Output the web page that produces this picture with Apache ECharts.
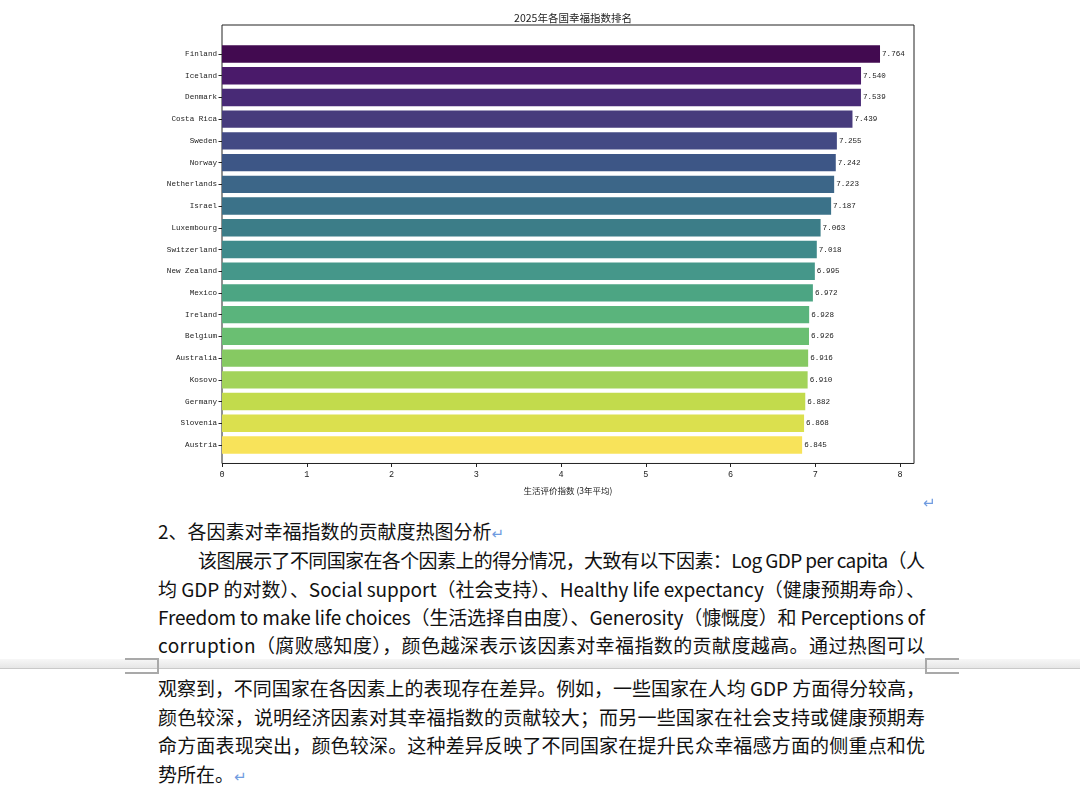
<!DOCTYPE html>
<html lang="zh">
<head>
<meta charset="utf-8">
<script src="https://cdn.jsdelivr.net/npm/echarts@6/dist/echarts.min.js"></script>
<style>
  html,body{margin:0;padding:0;background:#fff;}
  #page{position:relative;width:1080px;height:795px;overflow:hidden;background:#fff;}
  #chart{position:absolute;left:0;top:0;width:1080px;height:500px;}
  .ln{position:absolute;left:158px;width:767px;height:28px;line-height:28px;font-size:19px;
      font-family:"Noto Sans CJK SC","Noto Sans",sans-serif;color:#111;white-space:nowrap;text-align:left;}
  .pm{color:#6f9be0;font-family:"DejaVu Sans",sans-serif;font-size:15px;}
  .gap{position:absolute;left:0;top:659px;width:1080px;height:9px;
       background:linear-gradient(#f7f7f7,#e6e6e6);border-bottom:1px solid #c9c9c9;}
  .mk{position:absolute;height:12px;width:32px;border-top:2px solid #a9a9a9;border-bottom:2px solid #a9a9a9;}
</style>
</head>
<body>
<div id="page">
  <div id="chart"></div>
  <div class="pm" style="position:absolute;left:923px;top:494px;">↵</div>
  <div class="ln" style="top:517px;">2、各因素对幸福指数的贡献度热图分析<span class="pm">↵</span></div>
  <div class="ln j" style="top:546px;padding-left:40px;width:727px;"><span>该图展示了不同国家在各个因素上的得分情况，大致有以下因素：Log GDP per capita（人</span></div>
  <div class="ln j" style="top:575px;"><span>均 GDP 的对数）、Social support（社会支持）、Healthy life expectancy（健康预期寿命）、</span></div>
  <div class="ln j" style="top:603px;"><span>Freedom to make life choices（生活选择自由度）、Generosity（慷慨度）和 Perceptions of</span></div>
  <div class="ln j" style="top:631px;"><span>corruption（腐败感知度），颜色越深表示该因素对幸福指数的贡献度越高。通过热图可以</span></div>
  <div class="gap"></div>
  <div class="mk" style="left:125px;top:658px;border-right:2px solid #a9a9a9;"></div>
  <div class="mk" style="left:925px;top:658px;border-left:2px solid #a9a9a9;"></div>
  <div class="ln j" style="top:674px;"><span>观察到，不同国家在各因素上的表现存在差异。例如，一些国家在人均 GDP 方面得分较高，</span></div>
  <div class="ln j" style="top:703px;"><span>颜色较深，说明经济因素对其幸福指数的贡献较大；而另一些国家在社会支持或健康预期寿</span></div>
  <div class="ln j" style="top:731px;"><span>命方面表现突出，颜色较深。这种差异反映了不同国家在提升民众幸福感方面的侧重点和优</span></div>
  <div class="ln" style="top:760px;">势所在。<span class="pm">↵</span></div>
</div>
<script>
const countries = ["Finland","Iceland","Denmark","Costa Rica","Sweden","Norway","Netherlands","Israel","Luxembourg","Switzerland","New Zealand","Mexico","Ireland","Belgium","Australia","Kosovo","Germany","Slovenia","Austria"];
const scores = [7.764,7.540,7.539,7.439,7.255,7.242,7.223,7.187,7.063,7.018,6.995,6.972,6.928,6.926,6.916,6.910,6.882,6.868,6.845];
const xTicks = [0,1,2,3,4,5,6,7,8];
const chartTitle = "2025年各国幸福指数排名";
const xName = "生活评价指数 (3年平均)";
const palette = ["#420a50","#4a1a6a","#482a76","#473b7c","#434a84","#3d5686","#3c6688","#3b7289","#3c7d88","#3f8a8b","#45978a","#4ca583","#5ab47c","#6abf72","#86c962","#a2d35a","#c2db4c","#dbe04e","#f8e35a"];

const mono = "Liberation Mono, DejaVu Sans Mono, monospace";
const cjk = "Noto Sans CJK SC, sans-serif";
const ink = "#222";
const xMax = 8.165;

const chart = echarts.init(document.getElementById('chart'), null, {renderer:'canvas'});
chart.setOption({
  animation:false,
  backgroundColor:'#fff',
  title:{text:chartTitle, left:568, top:8, textAlign:'center',
    textStyle:{fontSize:10.5, fontWeight:'normal', color:ink, fontFamily:cjk}},
  grid:[
    {left:222, right:166, top:25, bottom:26, show:true, borderColor:ink, borderWidth:1, backgroundColor:'transparent'},
    {left:222, right:166, top:43.14, bottom:44.16}
  ],
  xAxis:[
    {gridIndex:0, type:'value', min:0, max:xMax,
     axisLine:{show:false}, splitLine:{show:false},
     axisTick:{show:true, length:3.5, lineStyle:{color:ink, width:1}, customValues:xTicks},
     axisLabel:{customValues:xTicks, fontSize:8.5, color:ink, margin:7, fontFamily:mono},
     name:xName, nameLocation:'middle', nameGap:23,
     nameTextStyle:{fontSize:8.5, color:ink, fontFamily:cjk}},
    {gridIndex:1, type:'value', min:0, max:xMax, show:false}
  ],
  yAxis:[
    {gridIndex:0, type:'value', show:false},
    {gridIndex:1, type:'category', data:countries, inverse:true,
     axisLine:{show:false}, splitLine:{show:false},
     axisTick:{show:true, alignWithLabel:true, length:3.5, lineStyle:{color:ink, width:1}},
     axisLabel:{fontSize:7.6, color:ink, margin:5, fontFamily:mono}}
  ],
  series:[{
    type:'bar', xAxisIndex:1, yAxisIndex:1, barWidth:'80%',
    data:scores.map((v,i)=>({value:v, itemStyle:{color:palette[i]}})),
    label:{show:true, position:'right', distance:2, fontSize:7.6, fontFamily:mono, color:ink,
      formatter:p=>p.value.toFixed(3)}
  }]
});

function justifyLines(){
  document.querySelectorAll('.ln.j').forEach(el=>{
    const sp = el.querySelector('span');
    sp.style.letterSpacing = '0px';
    const cs = getComputedStyle(el);
    const avail = el.clientWidth - parseFloat(cs.paddingLeft) - parseFloat(cs.paddingRight);
    const w = sp.getBoundingClientRect().width;
    const n = Array.from(sp.textContent).length;
    if (n > 1) sp.style.letterSpacing = ((avail - w) / (n - 1)) + 'px';
  });
}
justifyLines();
if (document.fonts && document.fonts.ready) document.fonts.ready.then(justifyLines);
</script>
</body>
</html>
